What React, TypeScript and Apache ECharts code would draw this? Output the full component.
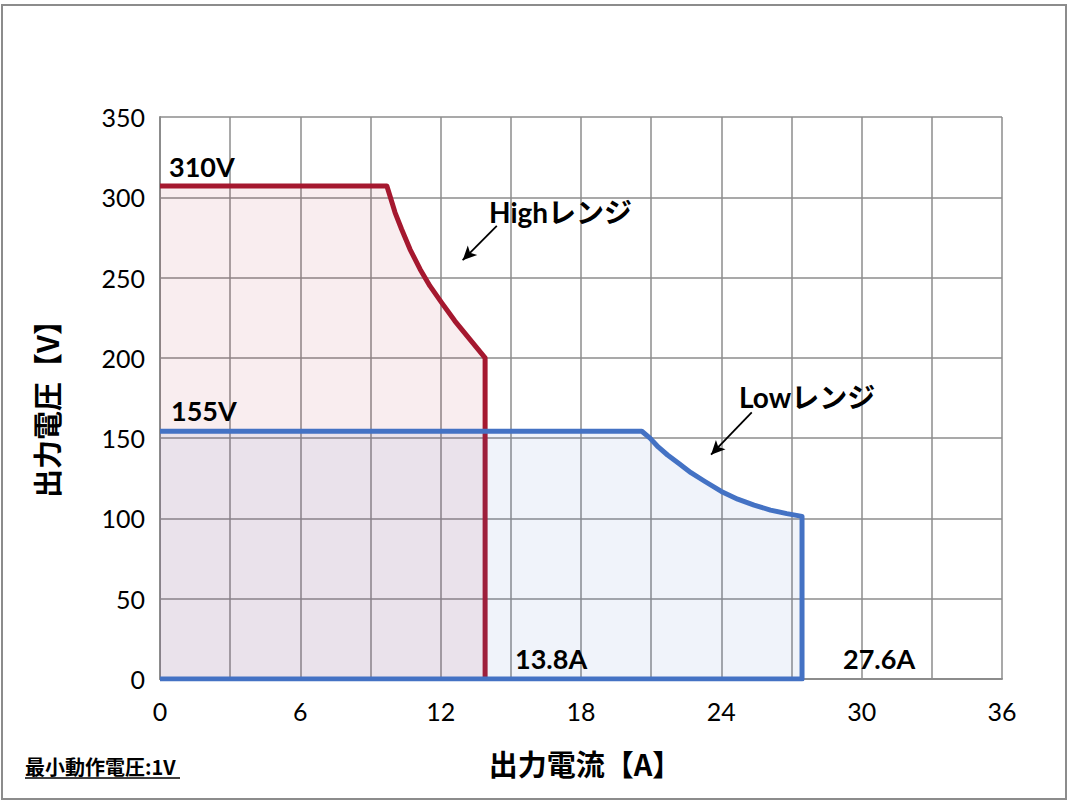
import React, { useEffect, useRef } from "react";
import * as echarts from "echarts";

// X axis: output current [A]; Y axis: output voltage [V]
const xTicks = [0, 6, 12, 18, 24, 30, 36];
const yTicks = [0, 50, 100, 150, 200, 250, 300, 350];

const highCurrent = [0, 9.7, 9.83, 10.05, 10.33, 10.69, 11.12, 11.54, 12.04, 12.61, 13.25, 13.9, 13.9];
const highVoltage = [307, 307, 300.9, 290.5, 280.1, 267.6, 255.2, 244.8, 234.4, 222.9, 211.5, 200, 0];

const lowCurrent = [0, 20.6, 20.95, 21.3, 21.7, 22.2, 22.7, 23.3, 24.0, 24.7, 25.4, 26.1, 26.8, 27.45, 27.45, 0];
const lowVoltage = [154.3, 154.3, 150, 144.5, 139.5, 134, 128.5, 123, 116.8, 112, 108.3, 105.2, 103, 101.3, 0, 0];

const highArrow = [[14.4, 282.2], [12.94, 260.8]];
const lowArrow = [[25.3, 166.1], [23.56, 139.7]];

const LATIN = "Lato, 'Noto Sans CJK JP', sans-serif";
const CJK = "'Noto Sans CJK JP', Lato, sans-serif";

export default function App() {
  const ref = useRef<HTMLDivElement>(null);
  useEffect(() => {
    document.body.style.margin = "0";
    if (!ref.current) return;
    const chart = echarts.init(ref.current, null, { renderer: "svg" });
    const high = highCurrent.map((c, i) => [c, highVoltage[i]]);
    const low = lowCurrent.map((c, i) => [c, lowVoltage[i]]);
    const label = (text: string, x: number, y: number, font = LATIN, size = 27) => ({
      type: "text",
      x,
      y,
      style: {
        text,
        fontFamily: font,
        fontSize: size,
        fontWeight: "bold",
        fill: "#000",
        textAlign: "left",
        textVerticalAlign: "middle",
      },
      z: 100,
    });
    chart.setOption({
      animation: false,
      backgroundColor: "#fff",
      grid: { left: 160, right: 66, top: 117, bottom: 124, containLabel: false },
      xAxis: {
        type: "value",
        min: 0,
        max: 36,
        interval: 3,
        axisLine: { show: true, onZero: false, lineStyle: { color: "#8c8c8c", width: 2 } },
        axisTick: { show: false },
        axisLabel: {
          margin: 19,
          fontSize: 25,
          fontFamily: LATIN,
          color: "#000",
          formatter: (v: number) => (xTicks.includes(v) ? String(v) : ""),
        },
        splitLine: { show: true, lineStyle: { color: "#8c8c8c", width: 1.5 } },
      },
      yAxis: {
        type: "value",
        min: 0,
        max: 350,
        interval: 50,
        axisLine: { show: true, lineStyle: { color: "#8c8c8c", width: 2 } },
        axisTick: { show: false },
        axisLabel: {
          margin: 15,
          fontSize: 25,
          fontFamily: LATIN,
          color: "#000",
          formatter: (v: number) => (yTicks.includes(v) ? String(v) : ""),
        },
        splitLine: { show: true, lineStyle: { color: "#8c8c8c", width: 1.5 } },
      },
      series: [
        {
          name: "High",
          type: "line",
          data: high,
          showSymbol: false,
          symbol: "none",
          lineStyle: { color: "#A5182F", width: 5, join: "round" },
          areaStyle: { color: "rgba(165,0,33,0.1)" },
          z: 3,
          markLine: {
            silent: true,
            symbol: ["none", "arrow"],
            symbolSize: [10, 14],
            label: { show: false },
            lineStyle: { color: "#000", width: 1.8, type: "solid" },
            data: [[{ coord: highArrow[0] }, { coord: highArrow[1] }]],
          },
        },
        {
          name: "Low",
          type: "line",
          data: low,
          showSymbol: false,
          symbol: "none",
          lineStyle: { color: "#4472C4", width: 5, join: "round" },
          areaStyle: { color: "rgba(68,114,196,0.12)" },
          z: 4,
          markLine: {
            silent: true,
            symbol: ["none", "arrow"],
            symbolSize: [10, 14],
            label: { show: false },
            lineStyle: { color: "#000", width: 1.8, type: "solid" },
            data: [[{ coord: lowArrow[0] }, { coord: lowArrow[1] }]],
          },
        },
      ],
      graphic: [
        {
          type: "rect",
          shape: { x: 2, y: 5, width: 1064, height: 794 },
          style: { fill: "none", stroke: "#8c8c8c", lineWidth: 2 },
          z: 0,
          silent: true,
        },
        label("310V", 169, 166),
        label("155V", 171, 410),
        label("Highレンジ", 489, 212, LATIN, 28),
        label("Lowレンジ", 739, 397, LATIN, 28),
        label("13.8A", 515, 658),
        label("27.6A", 843, 658),
        {
          type: "text",
          x: 585,
          y: 763,
          style: {
            text: "出力電流【A】",
            fontFamily: CJK,
            fontSize: 29,
            fontWeight: "bold",
            fill: "#000",
            textAlign: "center",
            textVerticalAlign: "middle",
          },
        },
        {
          type: "text",
          x: 46,
          y: 402,
          rotation: Math.PI / 2,
          style: {
            text: "出力電圧【V】",
            fontFamily: CJK,
            fontSize: 29,
            fontWeight: "bold",
            fill: "#000",
            textAlign: "center",
            textVerticalAlign: "middle",
          },
        },
        {
          type: "text",
          x: 25,
          y: 766,
          style: {
            text: "最小動作電圧:1V",
            fontFamily: CJK,
            fontSize: 20,
            fontWeight: "bold",
            fill: "#000",
            textAlign: "left",
            textVerticalAlign: "middle",
          },
        },
        {
          type: "line",
          shape: { x1: 25, y1: 778, x2: 180, y2: 778 },
          style: { stroke: "#000", lineWidth: 1.5 },
        },
      ],
    });
    return () => chart.dispose();
  }, []);
  return <div ref={ref} style={{ width: 1068, height: 803 }} />;
}
